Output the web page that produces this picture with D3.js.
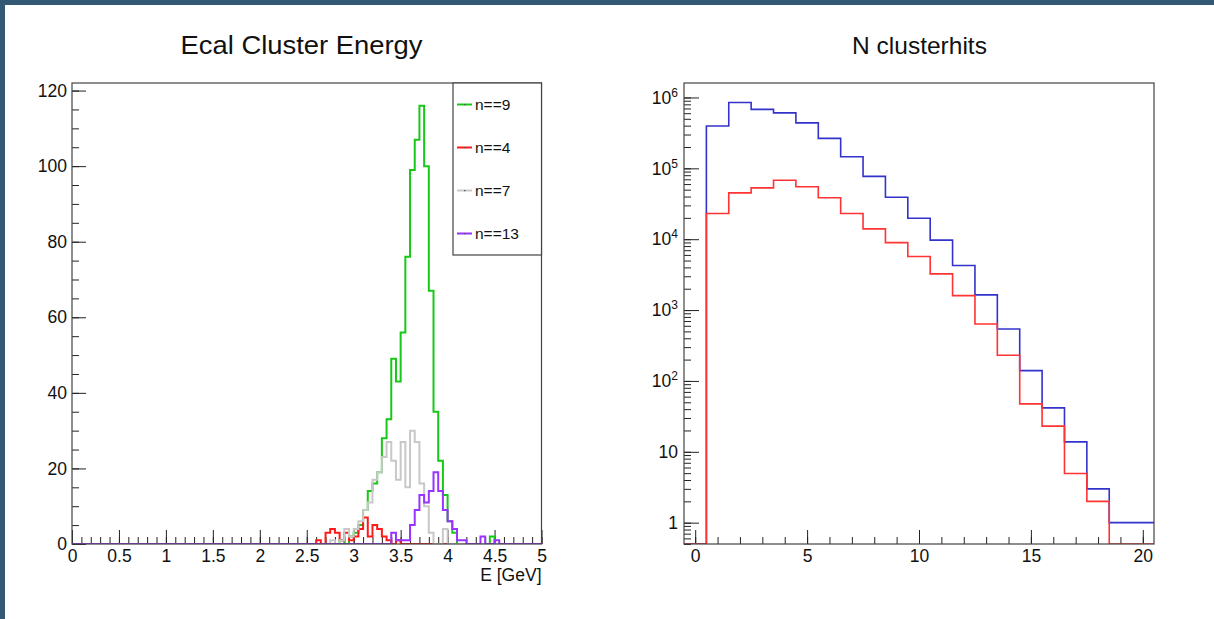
<!DOCTYPE html>
<html>
<head>
<meta charset="utf-8">
<script src="https://cdn.jsdelivr.net/npm/d3@7"></script>
<style>
body { margin: 0; background: #fff; }
svg { display: block; }
</style>
</head>
<body>
<svg id="chart" width="1214" height="619"></svg>
<script>
'use strict';

// ---- left pad: Ecal cluster energy, 100 bins of 0.05 GeV on [0,5]
const energyBinWidth = 0.05;
const energyTicks = [0, 0.5, 1, 1.5, 2, 2.5, 3, 3.5, 4, 4.5, 5];
const energyYTicks = [0, 20, 40, 60, 80, 100, 120];
const energyNames = ['n==9', 'n==4', 'n==7', 'n==13'];

// counts per bin, starting at the given lower bin edge
const n9Start = 2.85;
const n9Counts = [1, 0, 2, 3, 5, 9, 14, 16, 19, 28, 33, 49, 43, 56, 76, 99, 107, 116, 100, 67,
    35, 22, 13, 6, 3, 0, 0, 0, 0, 0, 0, 0, 2];
const n4Start = 2.60;
const n4Counts = [1, 0, 3, 4, 3, 1, 3, 1, 2, 4, 7, 2, 5, 4, 2, 1, 0, 1];
const n7Start = 2.75;
const n7Counts = [1, 0, 1, 4, 2, 4, 6, 9, 11, 17, 19, 23, 27, 22, 17, 27, 15, 30, 27, 16, 10, 3, 0, 0, 4];
const n13Start = 3.40;
const n13Counts = [3, 1, 1, 1, 5, 9, 13, 11, 14, 19, 14, 9, 6, 4, 1, 1, 0, 0, 0, 2, 0, 0, 1];

// ---- right pad: N clusterhits, integer bins 0..20 (log y)
const hitsBins = [0, 1, 2, 3, 4, 5, 6, 7, 8, 9, 10, 11, 12, 13, 14, 15, 16, 17, 18, 19, 20];
const hitsTicks = [0, 5, 10, 15, 20];
const hitsDecades = [1, 10, 100, 1e3, 1e4, 1e5, 1e6];
const hitsBlue = [0, 3.95e5, 8.5e5, 6.8e5, 6.07e5, 4.38e5, 2.65e5, 1.46e5, 7.7e4, 3.9e4, 1.98e4,
    9.7e3, 4.25e3, 1.64e3, 540, 140, 41.7, 13.8, 3.0, 1.0, 1.0];
const hitsRed = [0, 2.3e4, 4.5e4, 5.3e4, 6.8e4, 5.5e4, 3.85e4, 2.3e4, 1.4e4, 8.95e3, 5.7e3,
    3.24e3, 1.6e3, 635, 230, 47.4, 23, 4.95, 2.0, 0, 0];

(function() {
    const d3 = window.d3;
    const FONT = '"Liberation Sans", Arial, Helvetica, sans-serif';
    const LABEL = 17.5;
    const svg = d3.select('#chart').attr('font-family', FONT);
    const W = 1214, H = 619;

    svg.append('rect').attr('width', W).attr('height', H).attr('fill', '#fff');
    svg.append('rect').attr('width', W).attr('height', 5).attr('fill', '#325873');
    svg.append('rect').attr('width', 5).attr('height', H).attr('fill', '#325873');

    function fullBins(start, counts, nBins, width) {
        const out = new Array(nBins).fill(0);
        const first = Math.round(start / width);
        counts.forEach((c, i) => { out[first + i] = c; });
        return out;
    }

    // step outline of a histogram, like ROOT "HIST"
    function histPath(x, y, lo, width, counts, floor) {
        const pts = counts.map((c, i) => [lo + i * width, c]);
        pts.push([lo + counts.length * width, counts[counts.length - 1]]);
        return d3.line()
            .x(d => x(d[0]))
            .y(d => y(Math.max(d[1], floor)))
            .curve(d3.curveStepAfter)(pts);
    }

    function styleAxis(g) {
        g.attr('font-family', FONT).attr('font-size', LABEL).attr('color', '#222');
        g.select('.domain').remove();
        g.selectAll('text').attr('fill', '#111');
    }

    // ================= left: Ecal Cluster Energy =================
    const L = {left: 72, right: 541.5, top: 83, bottom: 544};
    const xE = d3.scaleLinear().domain([0, 5]).range([L.left, L.right]);
    const yE = d3.scaleLinear().domain([0, 122]).range([L.bottom, L.top]);

    svg.append('text')
        .attr('x', 301.5)
        .attr('y', 54)
        .attr('text-anchor', 'middle')
        .attr('font-size', 25)
        .attr('textLength', 242)
        .attr('lengthAdjust', 'spacingAndGlyphs')
        .attr('fill', '#111')
        .text('Ecal Cluster Energy');

    svg.append('defs').append('clipPath').attr('id', 'clipL')
        .append('rect').attr('x', L.left).attr('y', L.top)
        .attr('width', L.right - L.left).attr('height', L.bottom - L.top);

    // ticks
    svg.append('g').attr('transform', 'translate(0,' + L.bottom + ')')
        .call(d3.axisBottom(xE).tickValues(d3.range(0, 50.5, 1).map(d => d / 10)).tickSize(-7).tickFormat(''))
        .call(styleAxis);
    svg.append('g').attr('transform', 'translate(0,' + L.bottom + ')')
        .call(d3.axisBottom(xE).tickValues(energyTicks).tickSize(-14).tickPadding(6).tickFormat(d => String(d)))
        .call(styleAxis);
    svg.append('g').attr('transform', 'translate(' + L.left + ',0)')
        .call(d3.axisLeft(yE).tickValues(d3.range(0, 121, 5)).tickSize(-7).tickFormat(''))
        .call(styleAxis);
    svg.append('g').attr('transform', 'translate(' + L.left + ',0)')
        .call(d3.axisLeft(yE).tickValues(energyYTicks).tickSize(-14).tickPadding(5).tickFormat(d => String(d)))
        .call(styleAxis);

    svg.append('text')
        .attr('x', L.right)
        .attr('y', 581)
        .attr('text-anchor', 'end')
        .attr('font-size', LABEL)
        .attr('fill', '#111')
        .text('E [GeV]');

    // histograms, in drawing order
    const nE = Math.round(5 / energyBinWidth);
    const energySeries = [
        {name: energyNames[0], color: '#18c818', counts: fullBins(n9Start, n9Counts, nE, energyBinWidth)},
        {name: energyNames[1], color: '#ff1a1a', counts: fullBins(n4Start, n4Counts, nE, energyBinWidth)},
        {name: energyNames[2], color: '#c8c8c8', counts: fullBins(n7Start, n7Counts, nE, energyBinWidth)},
        {name: energyNames[3], color: '#9933ff', counts: fullBins(n13Start, n13Counts, nE, energyBinWidth)}
    ];

    svg.append('g').attr('clip-path', 'url(#clipL)')
        .selectAll('path')
        .data(energySeries)
        .enter()
        .append('path')
        .attr('fill', 'none')
        .attr('stroke', d => d.color)
        .attr('stroke-width', 2)
        .attr('d', d => histPath(xE, yE, 0, energyBinWidth, d.counts, 0));

    // frame
    svg.append('rect')
        .attr('x', L.left).attr('y', L.top)
        .attr('width', L.right - L.left).attr('height', L.bottom - L.top)
        .attr('fill', 'none').attr('stroke', '#444').attr('stroke-width', 1.2);

    // legend
    const leg = {left: 453, bottom: 255};
    const legend = svg.append('g');
    legend.append('rect')
        .attr('x', leg.left).attr('y', L.top)
        .attr('width', L.right - leg.left).attr('height', leg.bottom - L.top)
        .attr('fill', '#fff').attr('stroke', '#444').attr('stroke-width', 1.2);
    const rowH = (leg.bottom - L.top) / energySeries.length;
    const row = legend.selectAll('.row')
        .data(energySeries)
        .enter()
        .append('g')
        .attr('class', 'row')
        .attr('transform', (d, i) => 'translate(' + leg.left + ',' + (L.top + rowH * (i + 0.5)) + ')');
    row.append('line')
        .attr('x1', 4).attr('x2', 19)
        .attr('stroke', d => d.color).attr('stroke-width', 2);
    row.append('rect')
        .attr('x', 11).attr('y', -0.5).attr('width', 1.5).attr('height', 1.2)
        .attr('fill', '#555');
    row.append('text')
        .attr('x', 22).attr('dy', '0.36em')
        .attr('font-size', 15.5)
        .attr('fill', '#111')
        .text(d => d.name);

    // ================= right: N clusterhits =================
    const R = {left: 684, right: 1154, top: 83, bottom: 544};
    const xN = d3.scaleLinear().domain([-0.5, 20.5]).range([R.left, R.right]);
    const yN = d3.scaleLog().domain([0.5, 1.6e6]).range([R.bottom, R.top]);

    svg.append('text')
        .attr('x', 919.5)
        .attr('y', 54)
        .attr('text-anchor', 'middle')
        .attr('font-size', 24.5)
        .attr('fill', '#111')
        .text('N clusterhits');

    svg.append('defs').append('clipPath').attr('id', 'clipR')
        .append('rect').attr('x', R.left).attr('y', R.top)
        .attr('width', R.right - R.left).attr('height', R.bottom - R.top);

    svg.append('g').attr('transform', 'translate(0,' + R.bottom + ')')
        .call(d3.axisBottom(xN).tickValues(hitsBins).tickSize(-7).tickFormat(''))
        .call(styleAxis);
    svg.append('g').attr('transform', 'translate(0,' + R.bottom + ')')
        .call(d3.axisBottom(xN).tickValues(hitsTicks).tickSize(-14).tickPadding(6).tickFormat(d => String(d)))
        .call(styleAxis);

    const logMinor = [];
    for (let e = -1; e <= 6; e++) {
        for (let m = 1; m < 10; m++) {
            const v = m * Math.pow(10, e);
            if (v >= 0.5 && v <= 1.6e6) logMinor.push(v);
        }
    }
    svg.append('g').attr('transform', 'translate(' + R.left + ',0)')
        .call(d3.axisLeft(yN).tickValues(logMinor).tickSize(-7).tickFormat(''))
        .call(styleAxis);
    const yAxisN = svg.append('g').attr('transform', 'translate(' + R.left + ',0)')
        .call(d3.axisLeft(yN).tickValues(hitsDecades).tickSize(-15).tickFormat(''))
        .call(styleAxis);

    // decade labels with superscripts
    const lab = yAxisN.selectAll('.declab')
        .data(hitsDecades)
        .enter()
        .append('text')
        .attr('class', 'declab')
        .attr('x', -6)
        .attr('y', d => yN(d))
        .attr('dy', '0.36em')
        .attr('text-anchor', 'end')
        .attr('fill', '#111');
    lab.filter(d => d <= 10).text(d => String(d));
    lab.filter(d => d > 10).each(function(d) {
        const t = d3.select(this);
        t.append('tspan').text('10');
        t.append('tspan')
            .attr('dy', -7)
            .attr('font-size', 12)
            .text(String(Math.round(Math.log10(d))));
    });

    const hitsSeries = [
        {color: '#3333cc', counts: hitsBlue},
        {color: '#ff3333', counts: hitsRed}
    ];
    svg.append('g').attr('clip-path', 'url(#clipR)')
        .selectAll('path')
        .data(hitsSeries)
        .enter()
        .append('path')
        .attr('fill', 'none')
        .attr('stroke', d => d.color)
        .attr('stroke-width', 1.6)
        .attr('d', d => histPath(xN, yN, hitsBins[0] - 0.5, 1, d.counts, 0.5));

    svg.append('rect')
        .attr('x', R.left).attr('y', R.top)
        .attr('width', R.right - R.left).attr('height', R.bottom - R.top)
        .attr('fill', 'none').attr('stroke', '#444').attr('stroke-width', 1.2);
}());
</script>
</body>
</html>
